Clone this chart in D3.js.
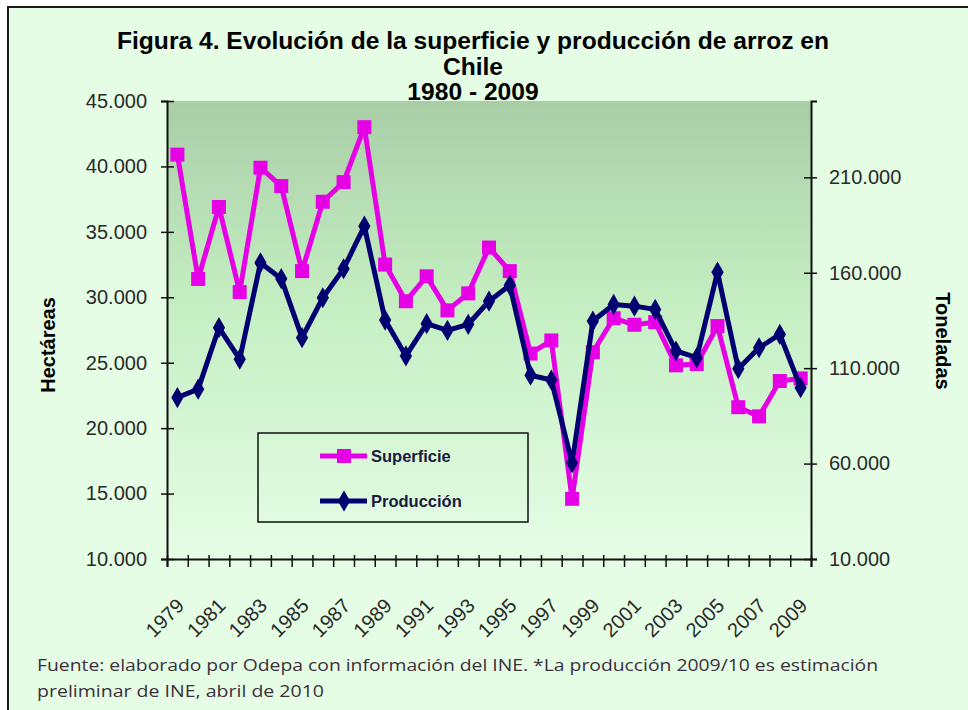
<!DOCTYPE html>
<html>
<head>
<meta charset="utf-8">
<script src="https://cdn.jsdelivr.net/npm/d3@7"></script>
<style>
  body { margin: 0; background: #ffffff; }
  svg { display: block; }
</style>
</head>
<body>
<div id="chart"></div>
<script>
// Superficie (ha) y produccion (t) de arroz en Chile, 1979 - 2009

const years = d3.range(1979, 2010);
const superficie = [40900, 31400, 36900, 30400, 39900, 38500, 32000, 37300, 38800, 43000,
                    32500, 29700, 31600, 29000, 30300, 33800, 32000, 25700, 26700, 14600,
                    25800, 28400, 27900, 28100, 24800, 24900, 27800, 21600, 20900, 23600, 23800];
const produccion = [94600, 99000, 131200, 114700, 165200, 156900, 126000, 146900, 162100, 184400,
                    135200, 116400, 133300, 129800, 133000, 145100, 153500, 106300, 103800, 60300,
                    134700, 143400, 142500, 140800, 119000, 115500, 160300, 109700, 120700, 127700, 99800];
const leftTicks = [10000, 15000, 20000, 25000, 30000, 35000, 40000, 45000];
const rightTicks = [10000, 60000, 110000, 160000, 210000];
const labelYears = years.filter(d => d % 2 === 1);

const W = 968, H = 710;
const plot = {left: 167, right: 811, top: 101, bottom: 559};

const svg = d3.select("#chart")
  .append("svg")
  .attr("width", W)
  .attr("height", H);

// es-CL number format: 45.000
const fmt = d3.formatLocale({decimal: ",", thousands: ".", grouping: [3], currency: ["$", ""]})
  .format(",.0f");

// frame
svg.append("rect")
  .attr("x", 8).attr("y", 7)
  .attr("width", W).attr("height", H)
  .attr("fill", "#e5fde4")
  .attr("stroke", "#1a1a1a")
  .attr("stroke-width", 2);

// plot background gradient
const grad = svg.append("defs").append("linearGradient")
  .attr("id", "bg").attr("x1", 0).attr("y1", 0).attr("x2", 0).attr("y2", 1);
grad.append("stop").attr("offset", "0%").attr("stop-color", "#a9cea6");
grad.append("stop").attr("offset", "45%").attr("stop-color", "#c5efc3");
grad.append("stop").attr("offset", "100%").attr("stop-color", "#e6fde6");

svg.append("rect")
  .attr("x", plot.left).attr("y", plot.top)
  .attr("width", plot.right - plot.left)
  .attr("height", plot.bottom - plot.top)
  .attr("fill", "url(#bg)");

// scales
const x = d3.scaleBand()
  .domain(years)
  .range([plot.left, plot.right])
  .padding(0);

const xEdge = d3.scaleLinear()
  .domain([0, years.length])
  .range([plot.left, plot.right]);

const yL = d3.scaleLinear()
  .domain([10000, 45000])
  .range([plot.bottom, plot.top]);

const yR = d3.scaleLinear()
  .domain([10000, 250000])
  .range([plot.bottom, plot.top]);

const cx = d => x(d) + x.bandwidth() / 2;

// title
const title = svg.append("g")
  .attr("font-family", "Liberation Sans, Arial, sans-serif")
  .attr("font-weight", "bold")
  .attr("font-size", "24.6px")
  .attr("text-anchor", "middle")
  .attr("fill", "#000");
title.append("text").attr("x", 473).attr("y", 49)
  .text("Figura 4. Evolución de la superficie y producción de arroz en");
title.append("text").attr("x", 473).attr("y", 75).text("Chile");
title.append("text").attr("x", 473).attr("y", 100).text("1980 - 2009");

// left axis
const axL = svg.append("g")
  .attr("transform", `translate(${plot.left},0)`)
  .call(d3.axisLeft(yL).tickValues(leftTicks).tickFormat(fmt).tickSize(6).tickPadding(14));
axL.select(".domain").attr("stroke", "#111").attr("stroke-width", 2);
axL.selectAll(".tick line").attr("x1", 7).attr("x2", -6).attr("stroke", "#111").attr("stroke-width", 1.5);
axL.selectAll(".tick text")
  .attr("font-family", "Liberation Sans, Arial, sans-serif")
  .attr("font-size", "20px")
  .attr("fill", "#2a2a2a");

// right axis
const axR = svg.append("g")
  .attr("transform", `translate(${plot.right},0)`)
  .call(d3.axisRight(yR).tickValues(rightTicks).tickFormat(fmt).tickSize(6).tickPadding(12));
axR.select(".domain").attr("stroke", "#111").attr("stroke-width", 2);
axR.selectAll(".tick line").attr("x1", -7).attr("x2", 6).attr("stroke", "#111").attr("stroke-width", 1.5);
axR.selectAll(".tick text")
  .attr("font-family", "Liberation Sans, Arial, sans-serif")
  .attr("font-size", "20px")
  .attr("fill", "#2a2a2a");

// bottom axis: ticks at category edges
const axB = svg.append("g")
  .attr("transform", `translate(0,${plot.bottom})`)
  .call(d3.axisBottom(xEdge).tickValues(d3.range(years.length + 1)).tickFormat("").tickSize(8));
axB.select(".domain").attr("stroke", "#111").attr("stroke-width", 2);
axB.selectAll(".tick line").attr("y1", -4).attr("stroke", "#111").attr("stroke-width", 1.5);

// year labels, rotated
svg.append("g")
  .selectAll("text")
  .data(labelYears)
  .join("text")
  .attr("transform", d => `translate(${cx(d) + 8},${plot.bottom + 48}) rotate(-45)`)
  .attr("text-anchor", "end")
  .attr("font-family", "Liberation Sans, Arial, sans-serif")
  .attr("font-size", "20px")
  .attr("fill", "#2a2a2a")
  .text(d => d);

// axis titles
svg.append("text")
  .attr("transform", "translate(55,345) rotate(-90)")
  .attr("text-anchor", "middle")
  .attr("font-family", "Liberation Sans, Arial, sans-serif")
  .attr("font-weight", "bold")
  .attr("font-size", "20px")
  .text("Hectáreas");

svg.append("text")
  .attr("transform", "translate(936,341) rotate(90)")
  .attr("text-anchor", "middle")
  .attr("font-family", "Liberation Sans, Arial, sans-serif")
  .attr("font-weight", "bold")
  .attr("font-size", "20px")
  .text("Toneladas");

// series
const pink = "#e600e6", navy = "#000070";
const diamond = d3.symbol().type(d3.symbolDiamond).size(130);

const lineL = d3.line().x((d, i) => cx(years[i])).y(d => yL(d));
const lineR = d3.line().x((d, i) => cx(years[i])).y(d => yR(d));

svg.append("path")
  .datum(superficie)
  .attr("d", lineL)
  .attr("fill", "none")
  .attr("stroke", pink)
  .attr("stroke-width", 5)
  .attr("stroke-linejoin", "round");

svg.append("g")
  .selectAll("rect")
  .data(superficie)
  .join("rect")
  .attr("x", (d, i) => cx(years[i]) - 7)
  .attr("y", d => yL(d) - 7)
  .attr("width", 14)
  .attr("height", 14)
  .attr("fill", pink);

svg.append("path")
  .datum(produccion)
  .attr("d", lineR)
  .attr("fill", "none")
  .attr("stroke", navy)
  .attr("stroke-width", 5)
  .attr("stroke-linejoin", "round");

svg.append("g")
  .selectAll("path")
  .data(produccion)
  .join("path")
  .attr("d", diamond)
  .attr("transform", (d, i) => `translate(${cx(years[i])},${yR(d)})`)
  .attr("fill", navy);

// legend
const legend = svg.append("g");
legend.append("rect")
  .attr("x", 258).attr("y", 433)
  .attr("width", 270).attr("height", 89)
  .attr("fill", "none")
  .attr("stroke", "#111")
  .attr("stroke-width", 1.5);

const legendItems = [
  {name: "Superficie", color: pink, y: 456, marker: "square"},
  {name: "Producción", color: navy, y: 501, marker: "diamond"}
];

legendItems.forEach(it => {
  legend.append("line")
    .attr("x1", 320).attr("x2", 367)
    .attr("y1", it.y).attr("y2", it.y)
    .attr("stroke", it.color).attr("stroke-width", 5);
  if (it.marker === "square") {
    legend.append("rect")
      .attr("x", 337).attr("y", it.y - 7)
      .attr("width", 14).attr("height", 14)
      .attr("fill", it.color);
  } else {
    legend.append("path")
      .attr("d", diamond)
      .attr("transform", `translate(344,${it.y})`)
      .attr("fill", it.color);
  }
  legend.append("text")
    .attr("x", 371).attr("y", it.y + 6)
    .attr("font-family", "Liberation Sans, Arial, sans-serif")
    .attr("font-weight", "bold")
    .attr("font-size", "16.5px")
    .attr("fill", "#1a1a40")
    .text(it.name);
});

// footer note
const foot = svg.append("g")
  .attr("font-family", "Open Sans, sans-serif")
  .attr("font-size", "16px")
  .attr("fill", "#3c2f3c");
foot.append("text")
  .attr("x", 37).attr("y", 671)
  .attr("textLength", 841)
  .attr("lengthAdjust", "spacingAndGlyphs")
  .text("Fuente: elaborado por Odepa con información  del INE.  *La producción 2009/10 es estimación");
foot.append("text")
  .attr("x", 37).attr("y", 697)
  .attr("textLength", 287)
  .attr("lengthAdjust", "spacingAndGlyphs")
  .text("preliminar de INE,  abril de 2010");
</script>
</body>
</html>
